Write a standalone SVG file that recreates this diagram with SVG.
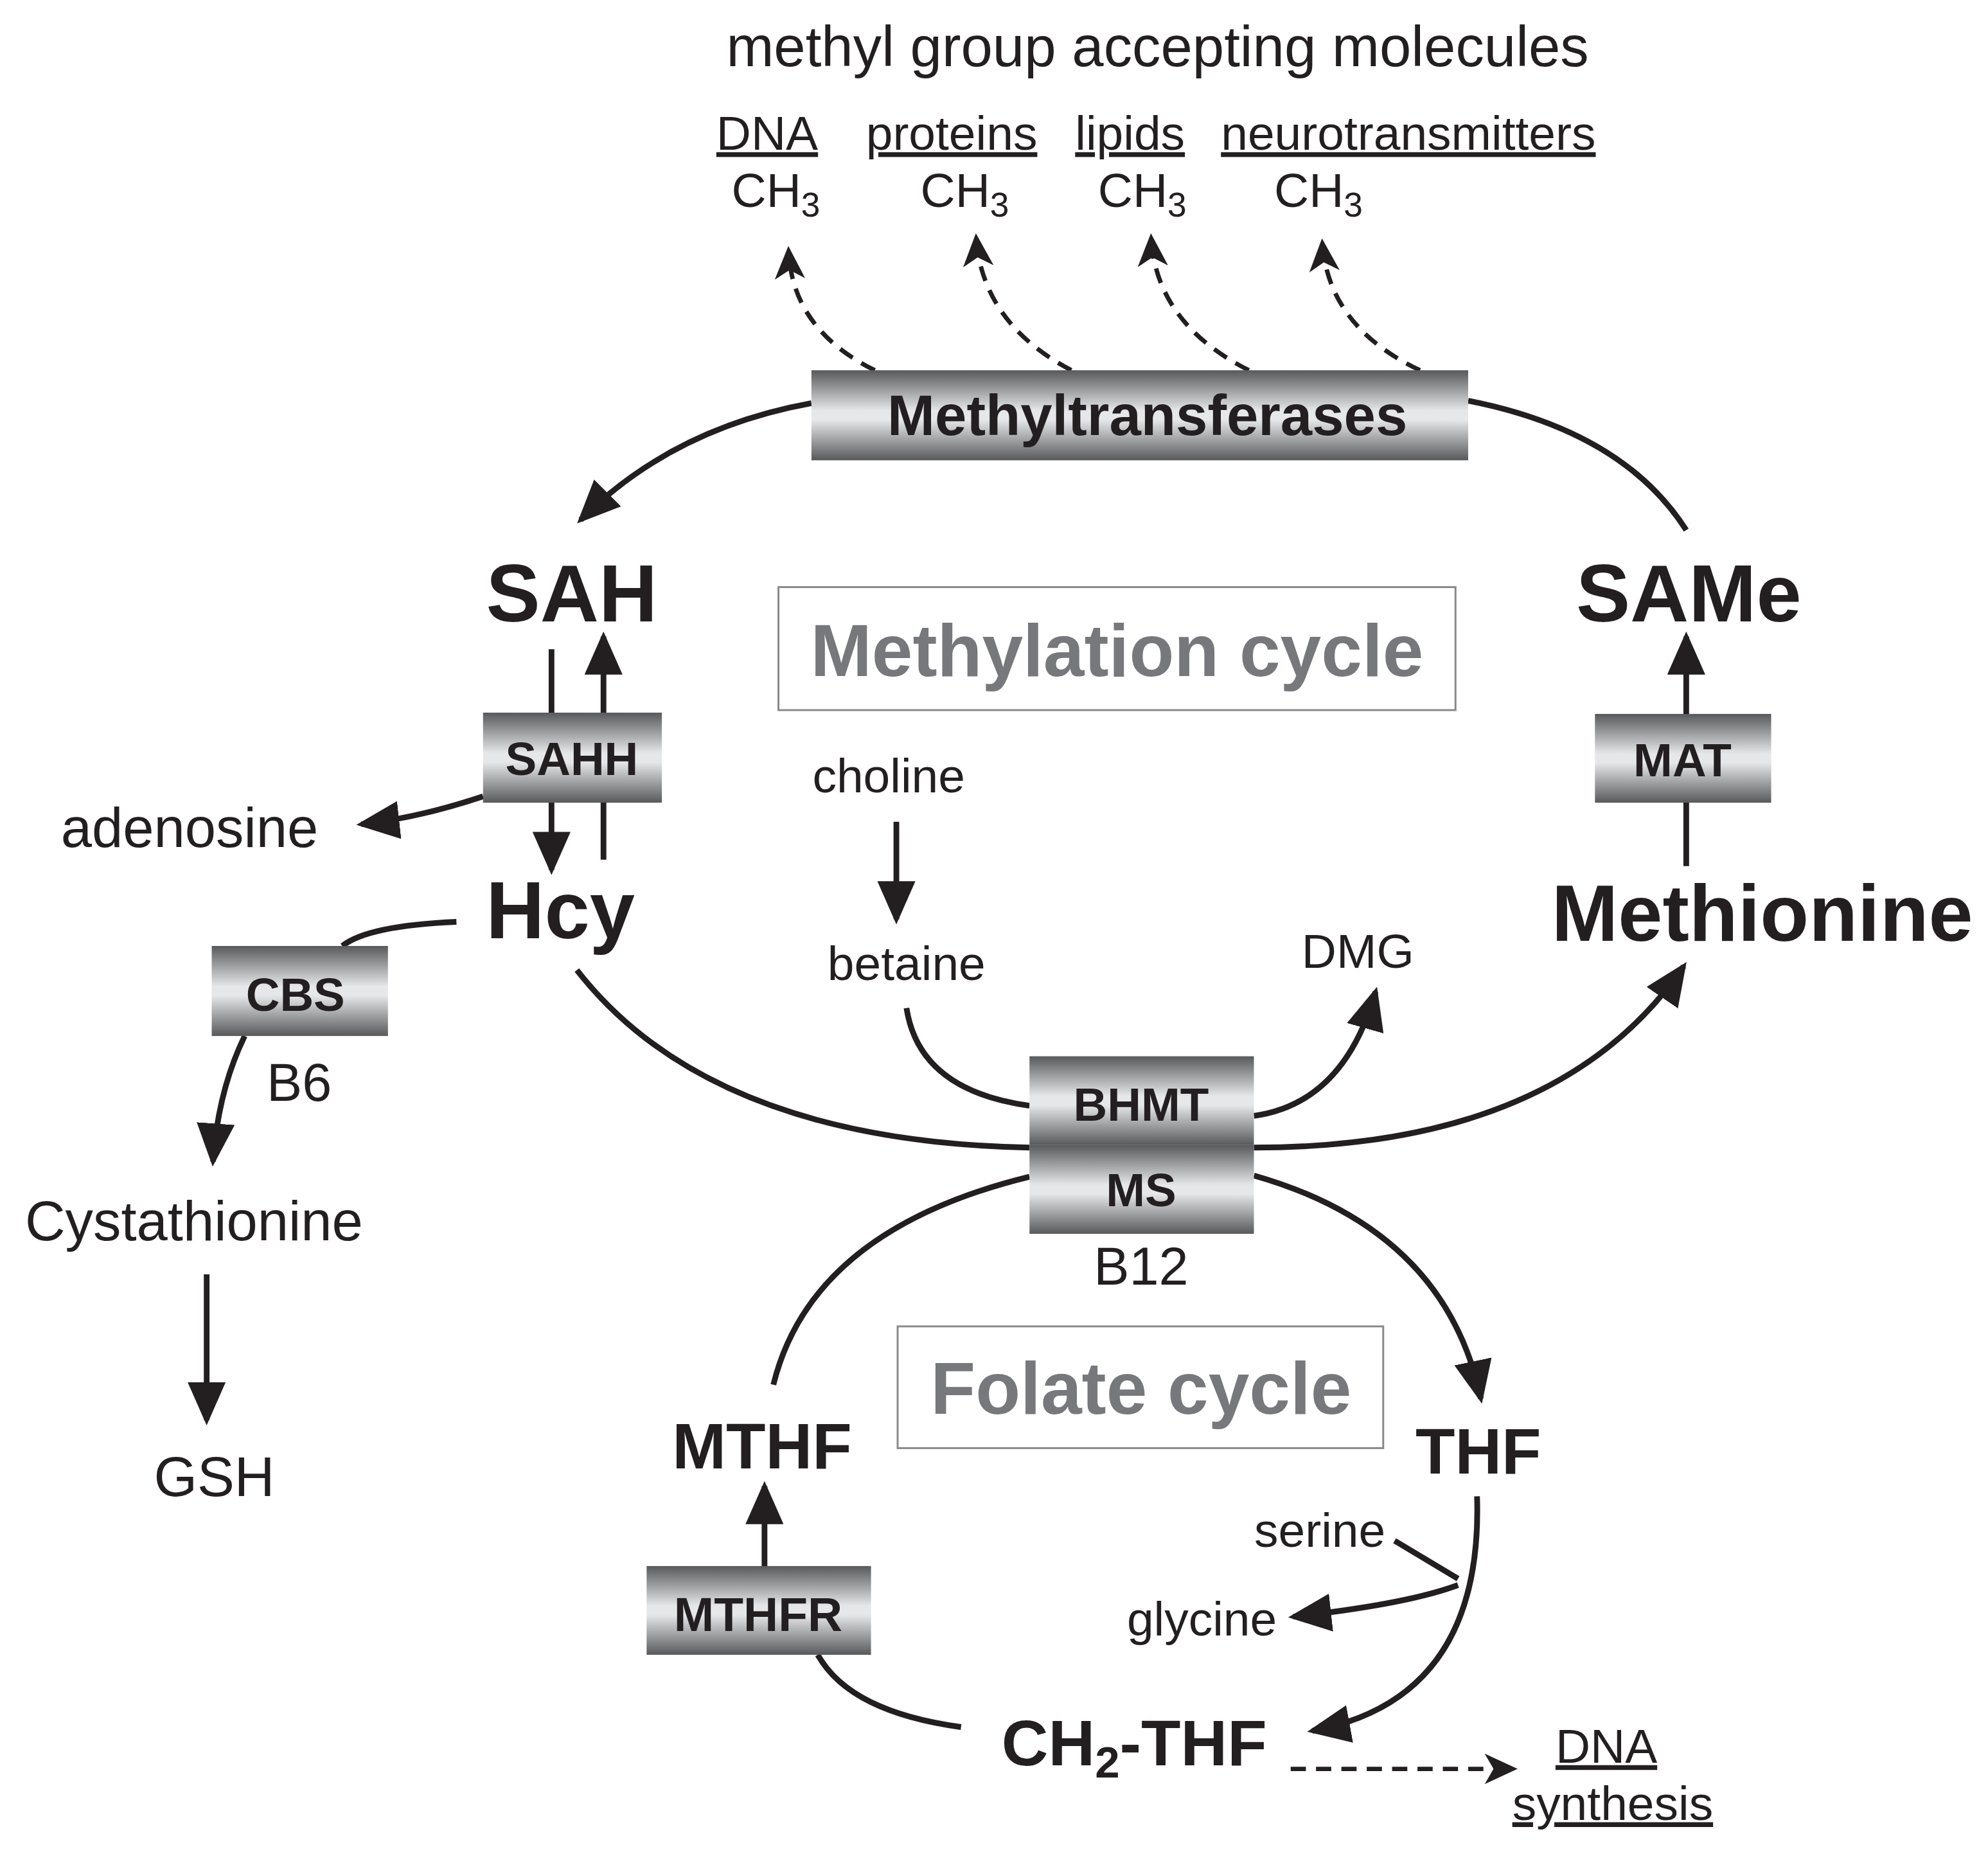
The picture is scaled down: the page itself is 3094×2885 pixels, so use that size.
<svg xmlns="http://www.w3.org/2000/svg" width="3094" height="2885" viewBox="0 0 3094 2885">
<style>
text{font-family:"Liberation Sans",Arial,sans-serif;fill:#231f20}
.b{font-weight:bold}
.ln{fill:none;stroke:#231f20;stroke-width:4.5}
.ar{marker-end:url(#ah)}
.da{fill:none;stroke:#231f20;stroke-width:3.5;stroke-dasharray:12 8;marker-end:url(#dh)}
.enz{fill:url(#g);}
.cbox{fill:#fff;stroke:#888;stroke-width:1.5}
.gray{fill:#77787b;font-weight:bold}
.u{text-decoration:underline}
</style>
<defs>
<linearGradient id="g" x1="0" y1="0" x2="0" y2="1">
<stop offset="0" stop-color="#58595b"/>
<stop offset="0.45" stop-color="#e6e7e8"/>
<stop offset="0.55" stop-color="#e6e7e8"/>
<stop offset="1" stop-color="#58595b"/>
</linearGradient>
<marker id="ah" markerUnits="userSpaceOnUse" markerWidth="34" markerHeight="30" refX="30" refY="15" orient="auto" viewBox="0 0 34 30"><path d="M0,0 L34,15 L0,30 z" fill="#231f20"/></marker>
<marker id="dh" markerUnits="userSpaceOnUse" markerWidth="26" markerHeight="24" refX="22" refY="12" orient="auto" viewBox="0 0 26 24"><path d="M0,0 L26,12 L0,24 L7,12 z" fill="#231f20"/></marker>
</defs>
<rect width="3094" height="2885" fill="#fff"/>
<g transform="scale(1.9732)">
<g id="connectors">
<path class="da" d="M690,292 Q625,260 622,198"/>
<path class="da" d="M845,292 Q775,255 770,188"/>
<path class="da" d="M985,292 Q912,255 908,188"/>
<path class="da" d="M1120,292 Q1048,258 1043,192"/>
<path class="ln ar" d="M640,318 Q530,338 458,410"/>
<path class="ln" d="M1158,316 Q1280,340 1330,418"/>
<path class="ln ar" d="M435,512 L435,686"/>
<path class="ln ar" d="M476,678 L476,502"/>
<path class="ln ar" d="M381,628 Q330,645 285,650"/>
<path class="ln ar" d="M1330,683 L1330,502"/>
<path class="ln ar" d="M707,648 L707,725"/>
<path class="ln" d="M360,727 Q290,730 270,746"/>
<path class="ln ar" d="M193,817 Q172,860 168,916"/>
<path class="ln ar" d="M163,1005 L163,1120"/>
<path class="ln" d="M455,765 Q560,900 812,905"/>
<path class="ln ar" d="M989,905 Q1230,905 1328,762"/>
<path class="ln" d="M715,795 Q725,860 812,872"/>
<path class="ln ar" d="M989,880 Q1060,870 1085,782"/>
<path class="ln" d="M812,928 Q640,970 610,1092"/>
<path class="ln ar" d="M989,927 Q1140,970 1168,1103"/>
<path class="ln ar" d="M603,1235 L603,1172"/>
<path class="ln" d="M758,1362 Q670,1350 645,1305"/>
<path class="ln ar" d="M1165,1180 Q1170,1340 1035,1365"/>
<path class="ln" d="M1100,1215 L1150,1245"/>
<path class="ln ar" d="M1150,1250 Q1110,1265 1020,1275"/>
<path class="da" d="M1018,1395 L1193,1395"/>
</g>
<g id="title"><text x="913" y="52" font-size="45" text-anchor="middle">methyl group accepting molecules</text></g>
<g id="targets" font-size="38">
<text x="565" y="118" class="u">DNA</text>
<text x="683" y="118" class="u">proteins</text>
<text x="848" y="118" class="u">lipids</text>
<text x="963" y="118" class="u">neurotransmitters</text>
<text x="577" y="163">CH<tspan font-size="27" dy="8">3</tspan></text>
<text x="726" y="163">CH<tspan font-size="27" dy="8">3</tspan></text>
<text x="866" y="163">CH<tspan font-size="27" dy="8">3</tspan></text>
<text x="1005" y="163">CH<tspan font-size="27" dy="8">3</tspan></text>
</g>
<g id="methyltransferases"><rect class="enz" x="640" y="292" width="518" height="71"/><text class="b" x="905" y="343" font-size="45" text-anchor="middle">Methyltransferases</text></g>
<g id="SAH"><text class="b" x="451" y="490" font-size="64" text-anchor="middle">SAH</text></g>
<g id="SAMe"><text class="b" x="1332" y="490" font-size="64" text-anchor="middle">SAMe</text></g>
<g id="methylation-cycle"><rect class="cbox" x="614" y="463" width="534" height="97"/><text class="gray" x="881" y="533" font-size="58" text-anchor="middle">Methylation cycle</text></g>
<g id="SAHH"><rect class="enz" x="381" y="562" width="141" height="71"/><text class="b" x="451" y="611" font-size="37" text-anchor="middle">SAHH</text></g>
<g id="adenosine"><text x="48" y="668" font-size="44">adenosine</text></g>
<g id="Hcy"><text class="b" x="442" y="740" font-size="64" text-anchor="middle">Hcy</text></g>
<g id="MAT"><rect class="enz" x="1258" y="563" width="139" height="70"/><text class="b" x="1327" y="612" font-size="37" text-anchor="middle">MAT</text></g>
<g id="Methionine"><text class="b" x="1390" y="742" font-size="63" text-anchor="middle">Methionine</text></g>
<g id="choline"><text x="701" y="625" font-size="38" text-anchor="middle">choline</text></g>
<g id="betaine"><text x="715" y="773" font-size="38" text-anchor="middle">betaine</text></g>
<g id="DMG"><text x="1071" y="763" font-size="38" text-anchor="middle">DMG</text></g>
<g id="CBS"><rect class="enz" x="167" y="746" width="139" height="71"/><text class="b" x="233" y="797" font-size="37" text-anchor="middle">CBS</text><text x="236" y="868" font-size="42" text-anchor="middle">B6</text></g>
<g id="Cystathionine"><text x="153" y="978" font-size="44" text-anchor="middle">Cystathionine</text></g>
<g id="GSH"><text x="169" y="1180" font-size="44" text-anchor="middle">GSH</text></g>
<g id="BHMT-MS"><rect class="enz" x="812" y="833" width="177" height="70"/><rect class="enz" x="812" y="903" width="177" height="70"/><text class="b" x="900" y="884" font-size="37" text-anchor="middle">BHMT</text><text class="b" x="900" y="951" font-size="37" text-anchor="middle">MS</text><text x="900" y="1013" font-size="42" text-anchor="middle">B12</text></g>
<g id="folate-cycle"><rect class="cbox" x="708" y="1046" width="383" height="96"/><text class="gray" x="900" y="1115" font-size="58" text-anchor="middle">Folate cycle</text></g>
<g id="MTHF"><text class="b" x="601" y="1158" font-size="51" text-anchor="middle">MTHF</text></g>
<g id="THF"><text class="b" x="1166" y="1162" font-size="51" text-anchor="middle">THF</text></g>
<g id="MTHFR"><rect class="enz" x="510" y="1235" width="177" height="70"/><text class="b" x="598" y="1286" font-size="38" text-anchor="middle">MTHFR</text></g>
<g id="serine"><text x="1041" y="1220" font-size="38" text-anchor="middle">serine</text></g>
<g id="glycine"><text x="948" y="1290" font-size="38" text-anchor="middle">glycine</text></g>
<g id="CH2-THF"><text class="b" x="790" y="1392" font-size="51">CH<tspan font-size="35" dy="10">2</tspan><tspan dy="-10">-THF</tspan></text></g>
<g id="DNA-synthesis" font-size="38"><text class="u" x="1267" y="1390" text-anchor="middle">DNA</text><text class="u" x="1272" y="1435" text-anchor="middle">synthesis</text></g>
</g>
</svg>
